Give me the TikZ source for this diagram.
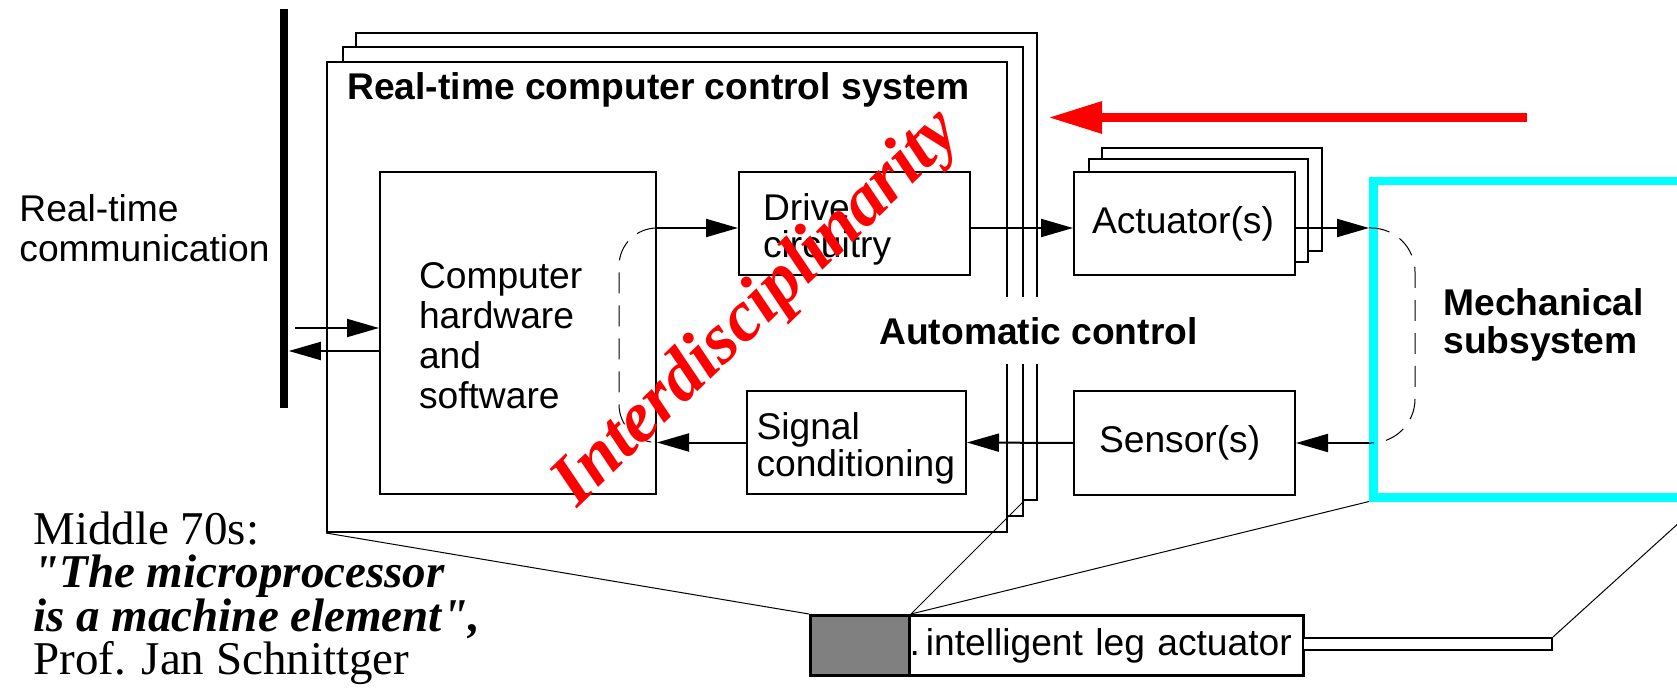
\documentclass[tikz,border=0pt]{standalone}
\usepackage{fontspec}
\setmainfont{Liberation Serif}[Ligatures=TeXOff]
\setsansfont{Liberation Sans}
\usepackage{xcolor}
\usepackage{tikz}
\usetikzlibrary{arrows,arrows.meta,positioning,shapes,calc}

\definecolor{mechcyan}{RGB}{0,255,255}
\definecolor{leggrey}{RGB}{128,128,128}
\newcommand\lblfont{\sffamily\fontsize{18.6}{18.6}\selectfont}

\begin{document}
\begin{tikzpicture}[x = .5pt, y = -.5pt,
    every node/.style = {font = \lblfont, inner sep = 0pt},
    frm/.style = {draw, line width = 1pt, fill = white, anchor = north west},
    blk/.style = {draw, line width = 1pt, fill = white, anchor = north west, minimum height = 51.5pt},
    sig/.style = {line width = 1pt, -{Triangle[length = 16pt, width = 9pt]}},
    lead/.style = {line width = .5pt},
    bracket/.style = {line width = .5pt, dash pattern = on 10.5pt off 6pt}]
    \useasboundingbox (0,0) rectangle (1677,695);
    \clip (0,0) rectangle (1677,695);

    % stacked computer frames
    \node[frm, minimum width = 340.5pt, minimum height = 233.5pt] (frame3) at (355,32) {};
    \node[frm, minimum width = 340pt, minimum height = 234.5pt] (frame2) at (342,46) {};
    \node[frm, minimum width = 340pt, minimum height = 235pt] (frame1) at (326,61) {};
    \node[anchor = base west, font = \lblfont\bfseries] (title) at (347,100) {Real-time computer control system};
    \node[anchor = base west, font = \lblfont\bfseries, fill = white, inner xsep = 2pt, inner ysep = 10pt] (auto) at (875,344) {Automatic control};

    % blocks
    \node[blk, minimum height = 161pt, text width = 99pt, inner xsep = 19.5pt, text height = 16pt, align = left, font = \sffamily\fontsize{18.6}{20}\selectfont] (cpu) at (379,171) {Computer\\hardware\\and\\software};
    \node[blk, text width = 91.5pt, inner xsep = 12pt, text height = 19pt, align = left] (drive) at (738,171) {Drive\\circuitry};
    \node[blk, text width = 100pt, inner xsep = 4.75pt, text height = 19pt, align = left] (sigc) at (746,390) {Signal\\conditioning};
    \node[blk, minimum width = 110pt] (act3) at (1101,147) {};
    \node[blk, minimum width = 109.5pt] (act2) at (1088,158) {};
    \node[blk, text width = 92.5pt, inner xsep = 9pt, align = left] (act) at (1073,171) {Actuator(s)};
    \node[blk, minimum height = 52pt, text width = 85.5pt, inner xsep = 12.5pt, align = left] (sens) at (1073,390) {Sensor(s)};
    \node[draw = mechcyan, line width = 4.25pt, anchor = north west, minimum width = 162.5pt, minimum height = 158pt] (mech) at (1369,177) {};
    \node[anchor = north west, align = left, font = \sffamily\bfseries\fontsize{18.6}{19}\selectfont] (mechlabel) at (1443,288) {Mechanical\\subsystem};

    % communication bus
    \node[fill, anchor = north west, minimum width = 4.25pt, minimum height = 199.5pt] (bus) at (279.5,9) {};
    \node[anchor = north west, align = left, font = \sffamily\fontsize{18.6}{20}\selectfont] (comm) at (19,194) {Real-time\\communication};

    % signal flow
    \coordinate (fwdrow) at (0,228);
    \coordinate (busin) at (295,328);
    \coordinate (busrow) at (0,351);
    \draw[sig] (busin) -- (cpu.west |- busin);
    \draw[sig] (cpu.west |- busrow) -- (bus.east |- busrow);
    \draw[sig] (cpu.east |- fwdrow) -- (drive.west |- fwdrow);
    \draw[sig] (drive.east |- fwdrow) -- (act.west |- fwdrow);
    \draw[sig] (act.east |- fwdrow) -- (mech.west |- fwdrow);
    \draw[sig] (mech.west |- sens.east) -- (sens.east);
    \draw[sig] (sens.west) -- (sigc.east);
    \draw[sig] (sigc.west) -- (cpu.east |- sigc.west);
    \draw[bracket, rounded corners = 19pt] (cpu.east |- fwdrow) -- ++(-38,0) -- ([xshift = -19pt]cpu.east |- sigc.west) -- (cpu.east |- sigc.west);
    \draw[bracket, rounded corners = 22pt] (mech.west |- fwdrow) -- ++(46,0) -- ([xshift = 23pt]mech.west |- sens.east) -- (mech.west |- sens.east);

    % leg actuator
    \node[draw, line width = 1.5pt, fill = white, anchor = north west, minimum width = 197pt, minimum height = 30pt, text width = 197pt, align = left] (leglabel) at (908,614) {.\kern3pt intelligent leg actuator};
    \node[draw, line width = 1.5pt, fill = leggrey, anchor = north west, minimum width = 49.5pt, minimum height = 30pt] (grey) at (809,614) {};
    \node[draw, line width = 1pt, fill = white, anchor = north west, minimum width = 124.5pt, minimum height = 6pt] (rod) at (1302,637) {};
    \draw[lead] (frame1.south west) -- (grey.north west);
    \draw[lead] (grey.north east) -- (frame2.east |- frame3.south);
    \draw[lead] (grey.north east) -- (mech.south west);
    \draw[lead] (rod.north east) -- (mech.south east);

    \node[anchor = north west, align = left, font = \rmfamily\fontsize{23.5}{21.75}\selectfont] (quote) at (33,511) {Middle 70s:\\\textbf{\textit{"The microprocessor}}\\\textbf{\textit{is a machine element",}}\\Prof. Jan Schnittger};

    % red overlay
    \coordinate (redtail) at (1527,117.5);
    \coordinate (redtip) at (1048,117.5);
    \draw[red, line width = 4.5pt, -{Triangle[length = 27pt, width = 15pt]}] (redtail) -- (redtip);
    \node[rotate = 44, anchor = base, text = red, font = \rmfamily\bfseries\itshape\fontsize{36}{36}\selectfont] (interdisc) at (770,322) {Interdisciplinarity};
\end{tikzpicture}
\end{document}
